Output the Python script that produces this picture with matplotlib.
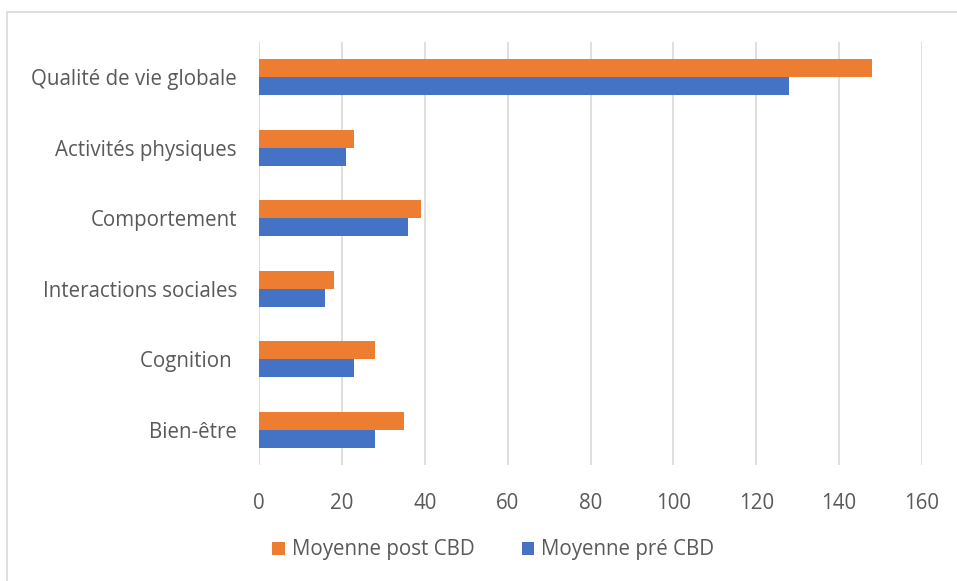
import matplotlib.pyplot as plt
import matplotlib.patches as mpatches
import numpy as np

categories = ['Bien-être', 'Cognition ', 'Interactions sociales',
              'Comportement', 'Activités physiques', 'Qualité de vie globale']
post_cbd = [35, 28, 18, 39, 23, 148]
pre_cbd = [28, 23, 16, 36, 21, 128]
x_ticks = [0, 20, 40, 60, 80, 100, 120, 140, 160]

orange = '#ED7D31'
blue = '#4472C4'
txt = '#595959'

plt.rcParams['font.family'] = ['Open Sans', 'DejaVu Sans']

fig = plt.figure(figsize=(9.57, 5.81), dpi=100)
# outer chart frame
fig.patches.append(mpatches.Rectangle((7 / 957, -0.1), 1.0, 1 - 12 / 581 + 0.1,
                                      transform=fig.transFigure, fill=False,
                                      ec='#D9D9D9', lw=1.2))
ax = fig.add_axes([259 / 957, 1 - 465 / 581, (922 - 259) / 957, (465 - 42) / 581])

y = np.arange(len(categories))
h = 0.255
ax.barh(y + h / 2, post_cbd, height=h, color=orange, label='Moyenne post CBD')
ax.barh(y - h / 2, pre_cbd, height=h, color=blue, label='Moyenne pré CBD')

ax.set_xlim(0, 160)
ax.set_ylim(-0.5, len(categories) - 0.5)
ax.set_xticks(x_ticks)
ax.set_yticks(y)
ax.set_yticklabels(categories)
ax.tick_params(axis='both', length=0, labelsize=14.8, colors=txt)
ax.tick_params(axis='x', pad=20)
ax.tick_params(axis='y', pad=16)
ax.grid(True, axis='x', color='#D9D9D9', lw=1.2)
ax.set_axisbelow(True)
for s in ax.spines.values():
    s.set_visible(False)

ax.legend(loc='center', bbox_to_anchor=(0.5 + 15 / 957, 1 - 550 / 581),
          bbox_transform=fig.transFigure,
          ncol=2, frameon=False, fontsize=14.8, labelcolor=txt, handlelength=0.6,
          handleheight=0.6, handletextpad=0.35, columnspacing=2.3)

fig.savefig('out.png', dpi=100)
